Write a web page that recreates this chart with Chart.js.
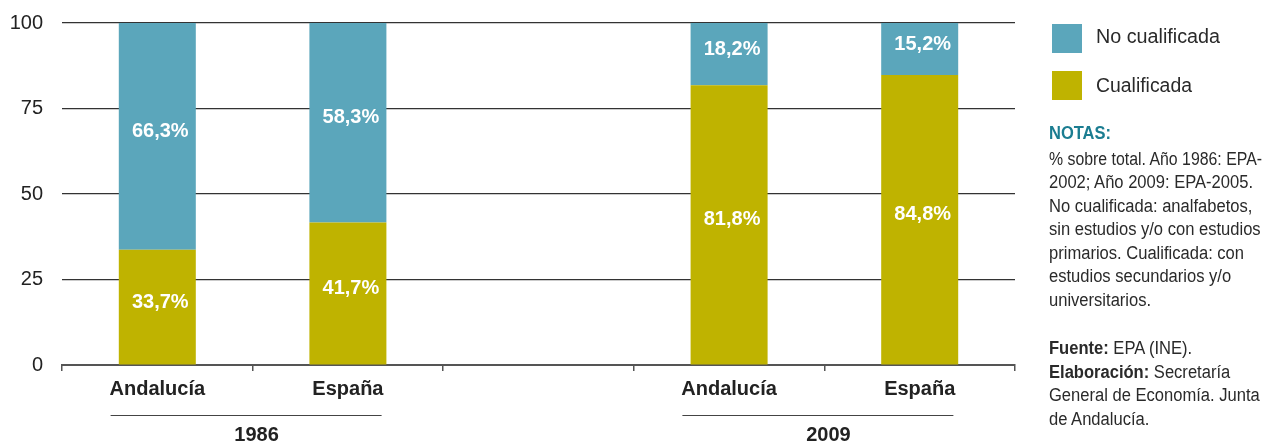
<!DOCTYPE html>
<html>
<head>
<meta charset="utf-8">
<script src="https://cdn.jsdelivr.net/npm/chart.js@4"></script>
<style>
  html, body { margin: 0; padding: 0; background: #fff; }
  #wrap { position: relative; width: 1265px; height: 441px; overflow: hidden; }
  #c { position: absolute; left: 0; top: 0; }
  .sw { position: absolute; width: 30px; height: 29px; }
  .tx { position: absolute; white-space: nowrap; font-family: "Liberation Sans", Arial, sans-serif; color: #2a2a2a; transform-origin: 0 50%; line-height: 24px; }
  .lg { font-size: 20px; }
  .nt { font-size: 18px; }
  .hd { font-size: 19px; color: #1b7d91; font-weight: bold; }
</style>
</head>
<body>
<div id="wrap">
  <canvas id="c" width="1265" height="441"></canvas>
  <div class="sw" style="left:1052px;top:24px;background:#5ba6bb;"></div>
  <div class="tx lg" data-w="124" style="left:1096px;top:24px;">No cualificada</div>
  <div class="sw" style="left:1052px;top:71px;background:#bfb300;"></div>
  <div class="tx lg" data-w="96" style="left:1096px;top:73px;">Cualificada</div>

  <div class="tx hd" data-w="62" style="left:1049px;top:121px;">NOTAS:</div>
  <div class="tx nt" data-w="213" style="left:1049px;top:147px;">% sobre total. Año 1986: EPA-</div>
  <div class="tx nt" data-w="204" style="left:1049px;top:170px;">2002; Año 2009: EPA-2005.</div>
  <div class="tx nt" data-k="1" style="left:1049px;top:194px;">No cualificada: analfabetos,</div>
  <div class="tx nt" data-k="1" style="left:1049px;top:217px;">sin estudios y/o con estudios</div>
  <div class="tx nt" data-k="1" style="left:1049px;top:241px;">primarios. Cualificada: con</div>
  <div class="tx nt" data-k="1" style="left:1049px;top:264px;">estudios secundarios y/o</div>
  <div class="tx nt" data-k="1" style="left:1049px;top:288px;">universitarios.</div>
  <div class="tx nt" data-k="1" style="left:1049px;top:336px;"><b>Fuente:</b> EPA (INE).</div>
  <div class="tx nt" data-k="1" style="left:1049px;top:360px;"><b>Elaboración:</b> Secretaría</div>
  <div class="tx nt" data-k="1" style="left:1049px;top:383px;">General de Economía. Junta</div>
  <div class="tx nt" data-k="1" style="left:1049px;top:407px;">de Andalucía.</div>
</div>
<script>
const categories = ['Andalucía', 'España', '', 'Andalucía', 'España'];
const cualificada = [33.7, 41.7, null, 81.8, 84.8];
const noCualificada = [66.3, 58.3, null, 18.2, 15.2];
const cualificadaLabels = ['33,7%', '41,7%', '', '81,8%', '84,8%'];
const noCualificadaLabels = ['66,3%', '58,3%', '', '18,2%', '15,2%'];
const yearGroups = ['1986', '2009'];
const yearGroupStart = [0, 3];
const yTicks = [0, 25, 50, 75, 100];

const COL_NC = '#5ba6bb';
const COL_C = '#bfb300';

// condense side texts to reference widths
(function () {
  let noteK = 1;
  document.querySelectorAll('.tx[data-w]').forEach(el => {
    const k = parseFloat(el.dataset.w) / el.getBoundingClientRect().width;
    el.style.transform = 'scaleX(' + k + ')';
    if (el.classList.contains('nt')) noteK = k;
  });
  document.querySelectorAll('.tx[data-k]').forEach(el => {
    el.style.transform = 'scaleX(' + noteK + ')';
  });
})();

const barLabels = {
  id: 'barLabels',
  afterDatasetsDraw(chart) {
    const ctx = chart.ctx;
    const texts = [cualificadaLabels, noCualificadaLabels];
    ctx.save();
    ctx.fillStyle = '#ffffff';
    ctx.font = 'bold 20px "Liberation Sans", Arial, sans-serif';
    ctx.textAlign = 'center';
    ctx.textBaseline = 'middle';
    chart.data.datasets.forEach((ds, di) => {
      chart.getDatasetMeta(di).data.forEach((el, i) => {
        const t = texts[di][i];
        if (!t) return;
        const y = (el.y + el.base) / 2 - 5;
        ctx.fillText(t, el.x + 3, y);
      });
    });
    ctx.restore();
  }
};

const groups = {
  id: 'groups',
  afterDraw(chart) {
    const ctx = chart.ctx;
    const xs = chart.scales.x;
    ctx.save();
    yearGroups.forEach((yr, g) => {
      const i = yearGroupStart[g];
      const mid = (xs.getPixelForValue(i) + xs.getPixelForValue(i + 1)) / 2;
      ctx.strokeStyle = '#444';
      ctx.lineWidth = 1;
      ctx.beginPath();
      ctx.moveTo(mid - 142, 415.5);
      ctx.lineTo(mid + 129, 415.5);
      ctx.stroke();
      ctx.fillStyle = '#222';
      ctx.font = 'bold 20px "Liberation Sans", Arial, sans-serif';
      ctx.textAlign = 'center';
      ctx.textBaseline = 'middle';
      ctx.fillText(yr, mid + 4, 435);
    });
    ctx.restore();
  }
};

new Chart(document.getElementById('c'), {
  type: 'bar',
  data: {
    labels: categories,
    datasets: [
      { label: 'Cualificada', data: cualificada, backgroundColor: COL_C, borderWidth: 0 },
      { label: 'No cualificada', data: noCualificada, backgroundColor: COL_NC, borderWidth: 0 }
    ]
  },
  options: {
    responsive: false,
    animation: false,
    devicePixelRatio: 1,
    layout: { padding: { top: 23, right: 250, left: 0, bottom: 0 } },
    plugins: { legend: { display: false }, tooltip: { enabled: false } },
    datasets: { bar: { categoryPercentage: 1, barPercentage: 0.404 } },
    scales: {
      x: {
        stacked: true,
        grid: { display: true, offset: true, drawOnChartArea: false, drawTicks: true, tickLength: 6, color: '#555', lineWidth: 1.5 },
        border: { display: true, color: '#555', width: 2 },
        ticks: { color: '#222', font: { family: '"Liberation Sans", Arial, sans-serif', size: 20, weight: 'bold' }, padding: 6, maxRotation: 0, autoSkip: false },
        afterFit(s) { s.height = 76; s.paddingLeft = 0; s.paddingRight = 0; }
      },
      y: {
        stacked: true,
        min: 0, max: 100,
        afterBuildTicks(s) { s.ticks = yTicks.map(v => ({ value: v })); },
        grid: { drawTicks: false, color: (c) => c.tick.value === 0 ? 'rgba(0,0,0,0)' : '#333', lineWidth: 1.2 },
        border: { display: false },
        ticks: { color: '#222', font: { family: '"Liberation Sans", Arial, sans-serif', size: 20 }, padding: 19 },
        afterFit(s) { s.width = 62; s.paddingTop = 0; s.paddingBottom = 0; }
      }
    }
  },
  plugins: [barLabels, groups]
});
</script>
</body>
</html>
